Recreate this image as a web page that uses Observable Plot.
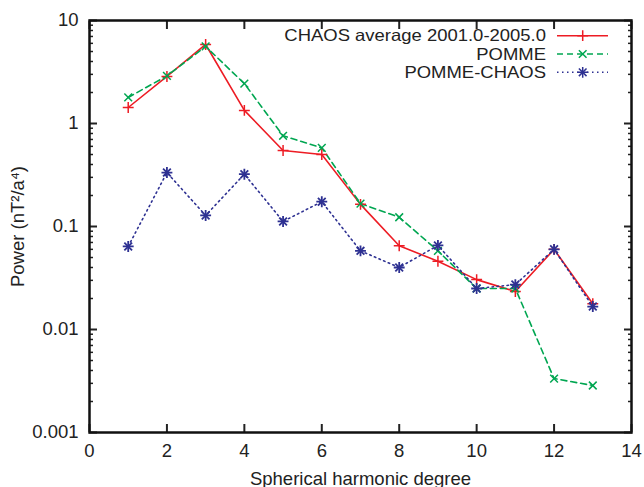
<!DOCTYPE html>
<html><head><meta charset="utf-8">
<script src="https://cdn.jsdelivr.net/npm/d3@7"></script>
<script src="https://cdn.jsdelivr.net/npm/@observablehq/plot@0.6"></script>
<style>body{margin:0;background:#fff}</style>
</head><body><div id="chart"></div>
<script>
const degrees = [1,2,3,4,5,6,7,8,9,10,11,12,13];
const chaosPower = [1.43,2.86,5.85,1.34,0.547,0.50,0.164,0.065,0.046,0.0305,0.0234,0.060,0.0178];
const pommePower = [1.79,2.9,5.6,2.44,0.76,0.58,0.167,0.123,0.058,0.025,0.025,0.00334,0.00286];
const diffPower = [0.064,0.334,0.128,0.322,0.112,0.174,0.058,0.040,0.0655,0.025,0.0273,0.060,0.0167];
const seriesNames = ["CHAOS average 2001.0-2005.0","POMME","POMME-CHAOS"];
const seriesColors = ["#ed1c24","#00a651","#2e3192"];
const xTicks = [0,2,4,6,8,10,12,14];
const yMajor = [0.001,0.01,0.1,1,10];
const yTickLabels = ["0.001","0.01","0.1","1","10"];
const yMinor = [];
for (const d of [0.001,0.01,0.1,1]) for (let k=2;k<=9;k++) yMinor.push(+(d*k).toPrecision(3));

const rows = (vals) => degrees.map((x,i)=>({x, y: vals[i]}));
const chaos = rows(chaosPower), pomme = rows(pommePower), diff = rows(diffPower);

const font = "'Liberation Sans', Arial, Helvetica, sans-serif";
const FS = 18.5;
const chart = Plot.plot({
  width: 644, height: 487,
  marginLeft: 89, marginRight: 13, marginTop: 20, marginBottom: 55,
  style: {fontFamily: font, fontSize: FS + "px", color: "#222", background: "white", overflow: "visible"},
  x: {domain: [0,14]},
  y: {type: "log", domain: [0.001,10]},
  marks: [
    Plot.axisX({ticks: xTicks, tickSize: 0, tickPadding: 11, tickFormat: d=>String(d), fontSize: FS,
      label: "Spherical harmonic degree", labelAnchor: "center", labelArrow: "none", labelOffset: 52}),
    Plot.axisX({ticks: xTicks, anchor: "bottom", tickSize: -8, strokeWidth: 2, tickFormat: ()=>"", label: null}),
    Plot.axisX({ticks: xTicks, anchor: "top", tickSize: -8, strokeWidth: 2, tickFormat: ()=>"", label: null}),
    Plot.axisY({ticks: yMajor, tickSize: 0, tickPadding: 11, fontSize: FS,
      tickFormat: d => yTickLabels[yMajor.indexOf(d)],
      label: "Power (nT²/a⁴)", labelAnchor: "center", labelArrow: "none", labelOffset: 79}),
    Plot.axisY({ticks: yMajor, anchor: "left", tickSize: -8, strokeWidth: 2, tickFormat: ()=>"", label: null}),
    Plot.axisY({ticks: yMajor, anchor: "right", tickSize: -8, strokeWidth: 2, tickFormat: ()=>"", label: null}),
    Plot.axisY({ticks: yMinor, anchor: "left", tickSize: -4, strokeWidth: 1.5, tickFormat: ()=>"", label: null}),
    Plot.axisY({ticks: yMinor, anchor: "right", tickSize: -4, strokeWidth: 1.5, tickFormat: ()=>"", label: null}),
    Plot.frame({stroke: "#111", strokeWidth: 2.5}),
    Plot.line(chaos, {x: "x", y: "y", stroke: seriesColors[0], strokeWidth: 1.6}),
    Plot.line(pomme, {x: "x", y: "y", stroke: seriesColors[1], strokeWidth: 1.6, strokeDasharray: "6,4"}),
    Plot.line(diff, {x: "x", y: "y", stroke: seriesColors[2], strokeWidth: 1.6, strokeDasharray: "1.5,3.5"}),
    Plot.dot(chaos, {x: "x", y: "y", symbol: "plus", stroke: seriesColors[0], r: 3.6, strokeWidth: 1.5}),
    Plot.dot(pomme, {x: "x", y: "y", symbol: "times", stroke: seriesColors[1], r: 3.6, strokeWidth: 1.5}),
    Plot.dot(diff, {x: "x", y: "y", symbol: "plus", stroke: seriesColors[2], r: 3.6, strokeWidth: 1.8}),
    Plot.dot(diff, {x: "x", y: "y", symbol: "times", stroke: seriesColors[2], r: 3.6, strokeWidth: 1.8})
  ]
});
document.getElementById("chart").appendChild(chart);

// legend (inside top-right)
const svg = d3.select(chart);
const lg = svg.append("g").attr("font-family", font).attr("font-size", 16.5);
const dashes = [null, "6,4", "1.5,3.5"];
seriesNames.forEach((name, i) => {
  const y = 35.7 + i*18.3;
  lg.append("text").attr("transform", `translate(546,${y}) scale(1.12,1)`)
    .attr("dy", "0.35em").attr("text-anchor", "end").attr("fill", "#222").text(name);
  lg.append("line").attr("x1", 557).attr("x2", 608).attr("y1", y).attr("y2", y)
    .attr("stroke", seriesColors[i]).attr("stroke-width", 1.6).attr("stroke-dasharray", dashes[i]);
  const syms = i === 0 ? [d3.symbolPlus] : i === 1 ? [d3.symbolTimes] : [d3.symbolPlus, d3.symbolTimes];
  syms.forEach(s => lg.append("path").attr("transform", `translate(582.7,${y})`)
    .attr("d", d3.symbol(s, 40)()).attr("fill", "none").attr("stroke", seriesColors[i]).attr("stroke-width", 1.5));
});
</script>
</body></html>
